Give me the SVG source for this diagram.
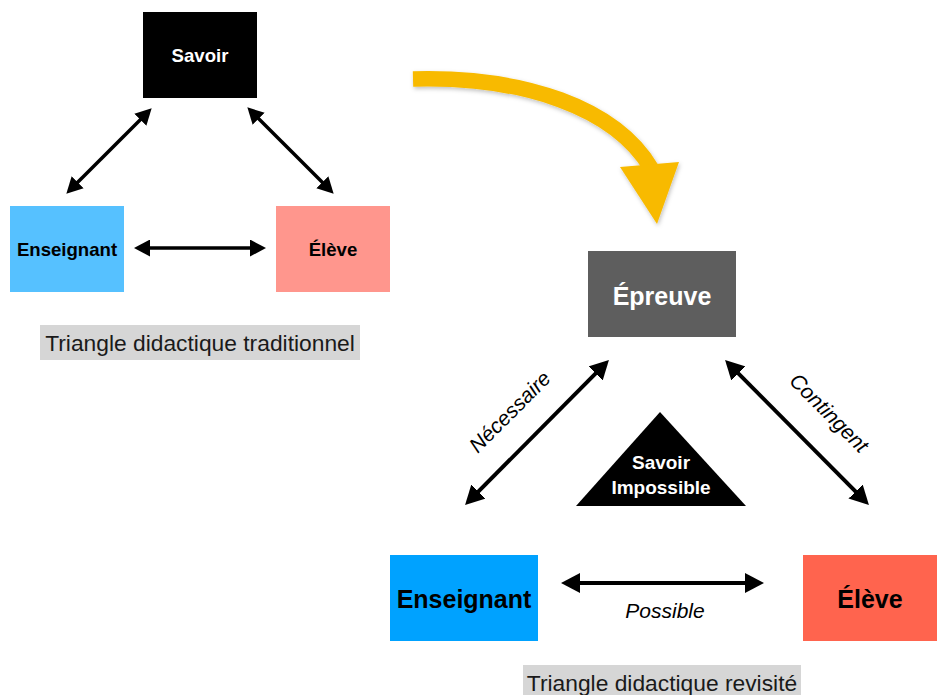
<svg xmlns="http://www.w3.org/2000/svg" width="937" height="695" viewBox="0 0 937 695">
  <style>
    .lbl { font-family: "Liberation Sans", Arial, sans-serif; font-weight: bold; text-anchor: middle; }
    .cap { font-family: "Liberation Sans", Arial, sans-serif; font-size: 22.8px; fill: #1a1a1a; text-anchor: middle; }
    .it { font-family: "Liberation Sans", Arial, sans-serif; font-style: italic; font-size: 21px; fill: #000; text-anchor: middle; }
    .conS { fill: none; stroke: #000; stroke-width: 3.5; marker-start: url(#ahS); marker-end: url(#ahS); }
    .conL { fill: none; stroke: #000; stroke-width: 4; marker-start: url(#ahL); marker-end: url(#ahL); }
  </style>
  <defs>
    <marker id="ahS" markerUnits="userSpaceOnUse" markerWidth="16" markerHeight="17" refX="7" refY="8.5" orient="auto-start-reverse" viewBox="0 0 16 17">
      <path d="M0,0 L16,8.5 L0,17 z" fill="#000"/>
    </marker>
    <marker id="ahL" markerUnits="userSpaceOnUse" markerWidth="19" markerHeight="20" refX="9" refY="10" orient="auto-start-reverse" viewBox="0 0 19 20">
      <path d="M0,0 L19,10 L0,20 z" fill="#000"/>
    </marker>
    <filter id="shadow" x="-10%" y="-10%" width="130%" height="130%">
      <feDropShadow dx="1" dy="2" stdDeviation="2" flood-color="#000" flood-opacity="0.25"/>
    </filter>
  </defs>

  <!-- Traditional triangle -->
  <g id="savoir">
    <rect x="143" y="12" width="114" height="86" fill="#000"/>
    <text class="lbl" x="200" y="62" font-size="18.6" fill="#fff">Savoir</text>
  </g>
  <g id="enseignant1">
    <rect x="10" y="206" width="114" height="86" fill="#56C1FF"/>
    <text class="lbl" x="67" y="256" font-size="18.6" fill="#000">Enseignant</text>
  </g>
  <g id="eleve1">
    <rect x="276" y="206" width="114" height="86" fill="#FF968D"/>
    <text class="lbl" x="333" y="256" font-size="18.6" fill="#000">Élève</text>
  </g>
  <g id="caption1">
    <rect x="40" y="325" width="320" height="35" fill="#D6D6D6"/>
    <text class="cap" x="200" y="351">Triangle didactique traditionnel</text>
  </g>

  <!-- Yellow transition arrow -->
  <g id="transition" filter="url(#shadow)">
    <path d="M413,79 C525,76 615,108 651,168" fill="none" stroke="#F8BA00" stroke-width="15.5"/>
    <polygon points="620,167 679,162 657,224" fill="#F8BA00"/>
  </g>

  <!-- Revisited triangle -->
  <g id="epreuve">
    <rect x="588" y="251" width="148" height="86" fill="#5E5E5E"/>
    <text class="lbl" x="662" y="305" font-size="25" fill="#fff">Épreuve</text>
  </g>
  <g id="enseignant2">
    <rect x="390" y="555" width="148" height="86" fill="#00A2FF"/>
    <text class="lbl" x="464" y="608" font-size="25" fill="#000">Enseignant</text>
  </g>
  <g id="eleve2">
    <rect x="803" y="555" width="134" height="86" fill="#FF644E"/>
    <text class="lbl" x="870" y="608" font-size="25" fill="#000">Élève</text>
  </g>
  <g id="savoir-impossible">
    <polygon points="660,412 576,506 746,506" fill="#000"/>
    <text class="lbl" x="661" y="469" font-size="19" fill="#fff">Savoir</text>
    <text class="lbl" x="661" y="494" font-size="19" fill="#fff">Impossible</text>
  </g>
  <g id="caption2">
    <rect x="523" y="665" width="278" height="30" fill="#D6D6D6"/>
    <text class="cap" x="662" y="691">Triangle didactique revisité</text>
  </g>

  <!-- Connectors -->
  <g id="connectors">
    <path class="conS" d="M145.3,114.7 L72.7,187.3"/>
    <path class="conS" d="M253.7,113.7 L327.3,187.3"/>
    <path class="conS" d="M143,248 L257,248"/>
    <path class="conL" d="M601.9,367.1 L472.1,497.9"/>
    <path class="conL" d="M732.1,367.1 L861.9,497.9"/>
    <path class="conL" d="M571,583 L754,583"/>
    <text class="it" transform="translate(510,412) rotate(-45)" x="0" y="7">Nécessaire</text>
    <text class="it" transform="translate(829,413) rotate(45)" x="0" y="7">Contingent</text>
    <text class="it" x="665" y="618">Possible</text>
  </g>
</svg>
